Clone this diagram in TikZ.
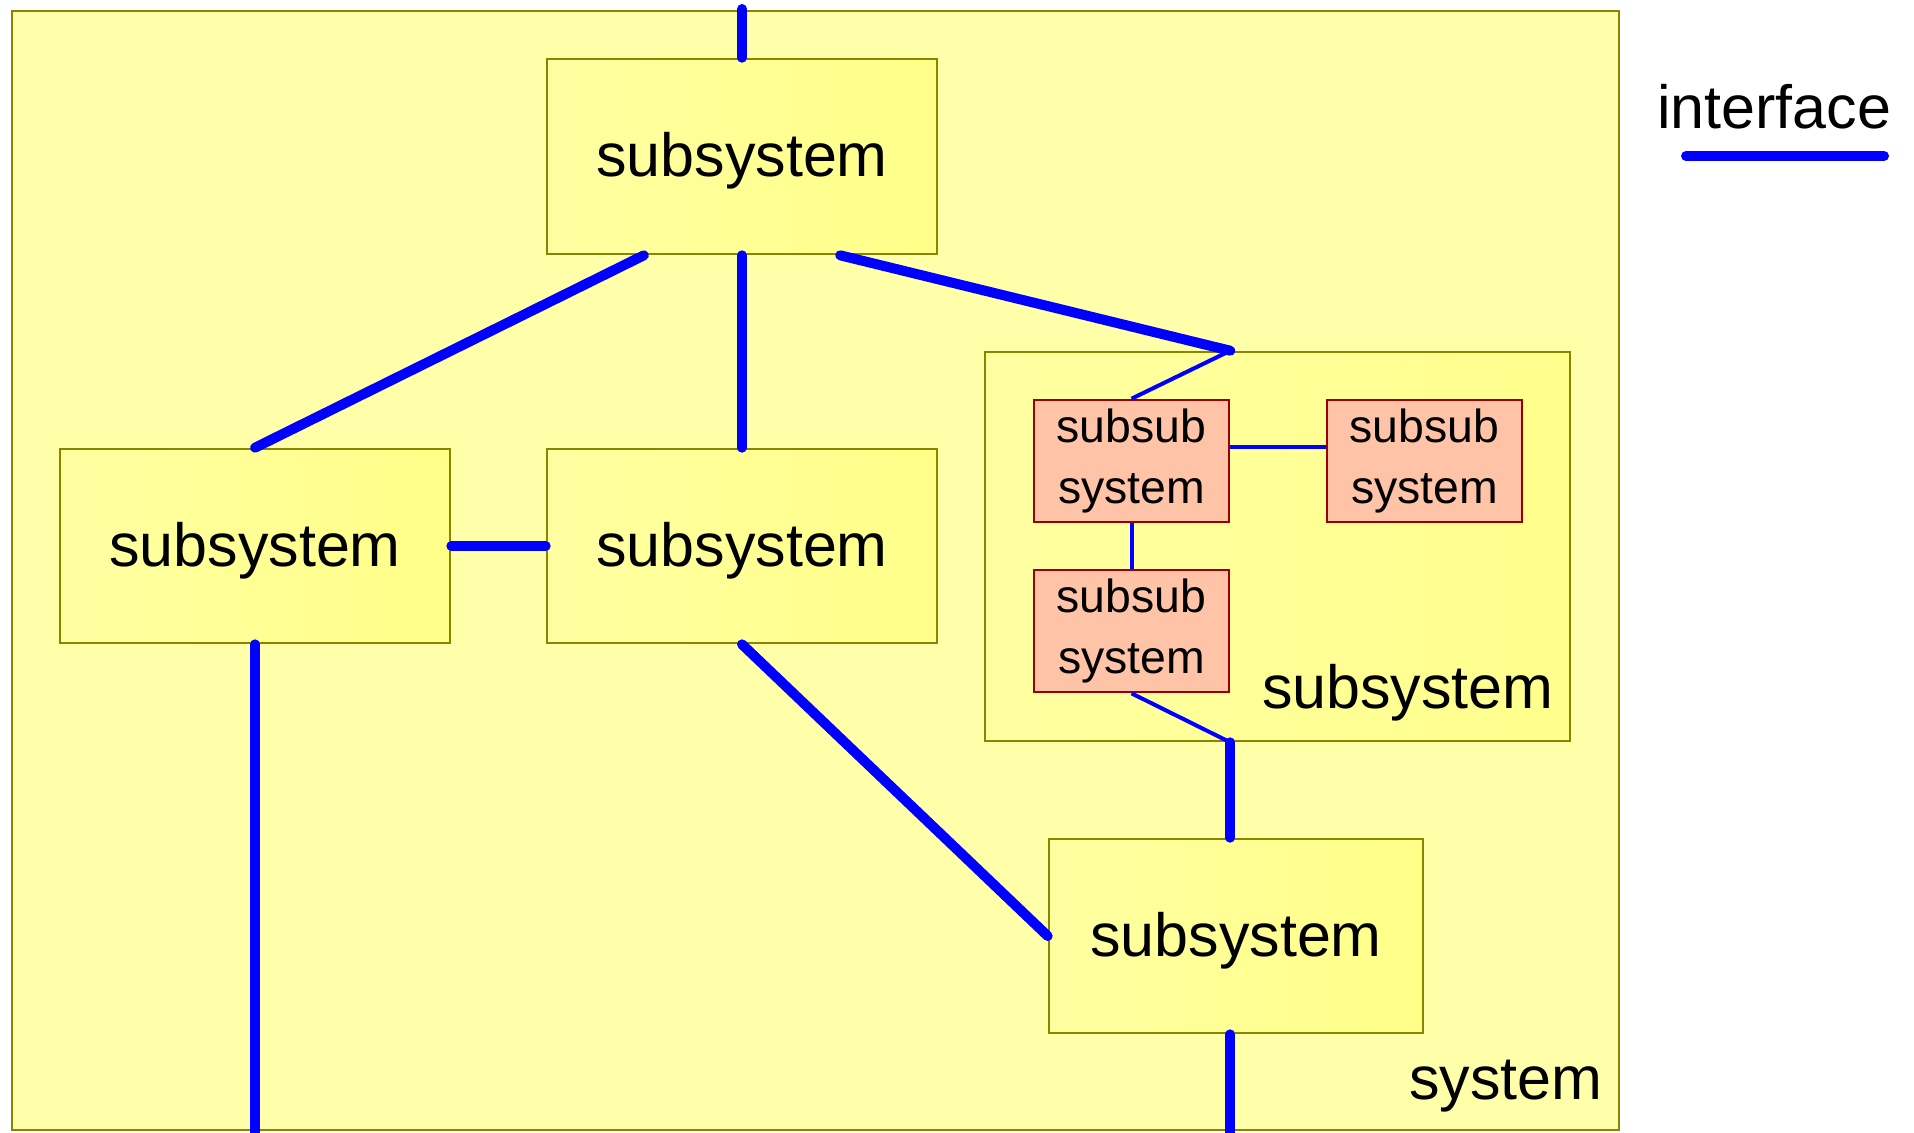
\documentclass[tikz,border=0pt]{standalone}
\usepackage{fontspec}
\setmainfont{Liberation Sans}
\usetikzlibrary{calc}
\definecolor{sysfill}{HTML}{FFFFAA}
\definecolor{subfillA}{HTML}{FFFFA2}
\definecolor{subfillB}{HTML}{FFFF88}
\definecolor{contfill}{HTML}{FFFF8C}
\definecolor{olive}{HTML}{868600}
\definecolor{ssfill}{HTML}{FFC4A8}
\definecolor{ssdraw}{HTML}{990000}
\definecolor{ifblue}{HTML}{0000FF}
\begin{document}
\begin{tikzpicture}[x=0.5pt,y=-0.5pt,
  bigtext/.style={font=\fontsize{30.5pt}{36pt}\selectfont},
  smalltext/.style={font=\fontsize{23.2pt}{30.5pt}\selectfont},
  sysbox/.style={draw=olive,line width=1.2pt,fill=sysfill,inner sep=0pt},
  subbox/.style={draw=olive,line width=1.3pt,left color=subfillA,right color=subfillB,inner sep=0pt,bigtext,text depth=2pt},
  contbox/.style={draw=olive,line width=1.3pt,left color=subfillA,right color=contfill,inner sep=0pt},
  ssbox/.style={draw=ssdraw,line width=1.3pt,fill=ssfill,inner sep=0pt,smalltext,align=center,minimum width=97.5pt,minimum height=61pt},
  iface/.style={draw=ifblue,line width=5pt,line cap=round},
  thiniface/.style={draw=ifblue,line width=2pt}]
\useasboundingbox (0,0) rectangle (1914,1132);
\node[sysbox,minimum width=803.5pt,minimum height=559.5pt] (sys) at (815.5,570.5) {};
\node[subbox,minimum width=195pt,minimum height=97.5pt] (top) at (742,156.5) {subsystem};
\node[subbox,minimum width=195pt,minimum height=97pt] (left) at (255,546) {subsystem};
\node[subbox,minimum width=195pt,minimum height=97pt] (mid) at (742,546) {subsystem};
\node[contbox,minimum width=292.5pt,minimum height=194.5pt] (cont) at (1277.5,546.5) {};
\node[ssbox] (ss1) at (1131.5,461) {subsub\\system};
\node[ssbox] (ss2) at (1424.5,461) {subsub\\system};
\node[ssbox] (ss3) at (1131.5,631) {subsub\\system};
\node[bigtext,anchor=base east,inner sep=0pt] (contlabel) at (1554,708) {subsystem};
\node[subbox,minimum width=187pt,minimum height=97pt] (bot) at (1236,936) {subsystem};
\node[bigtext,anchor=base east,inner sep=0pt] (syslabel) at (1603,1099) {system};
\node[bigtext,anchor=base,inner sep=0pt] (legend) at (1774,128) {interface};
\coordinate (lgA) at (1686,156);
\coordinate (lgB) at (1884,156);
\coordinate (topin) at (742,9);
\coordinate (leftout) at (255,1134);
\coordinate (contin) at (ss1.east |- cont.north);
\coordinate (contout) at (ss3.east |- cont.south);
\coordinate (botout) at (ss3.east |- 0,1134);
\coordinate (ss12) at ($(ss1.north east)!0.39!(ss1.south east)$);
% interfaces
\draw[iface] (topin) -- (top.north);
\draw[iface] ($(top.south west)!0.25!(top.south east)$) -- (left.north);
\draw[iface] (top.south) -- (mid.north);
\draw[iface] ($(top.south west)!0.75!(top.south east)$) -- (contin);
\draw[thiniface] (contin) -- (ss1.north);
\draw[thiniface] (ss12) -- (ss12 -| ss2.west);
\draw[thiniface] (ss1.south) -- (ss3.north);
\draw[thiniface] (ss3.south) -- (contout);
\draw[iface] (contout) -- (contout |- bot.north);
\draw[iface] (left.east) -- (mid.west);
\draw[iface] (left.south) -- (leftout);
\draw[iface] (mid.south) -- (bot.west);
\draw[iface] (contout |- bot.south) -- (botout);
\draw[iface] (lgA) -- (lgB);
\end{tikzpicture}
\end{document}
